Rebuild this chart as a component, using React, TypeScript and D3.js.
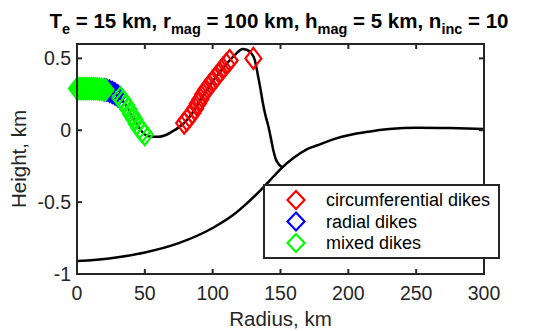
import React from "react";
import * as d3 from "d3";

// surface profile (upper curve)
const surfR = [0, 5, 10, 15, 20, 25, 30, 35, 40, 45, 50, 55, 60, 65, 70, 75, 80, 85, 90, 95, 100, 105, 110, 115, 119, 122, 125, 128, 131, 133, 135, 137, 139, 141, 143, 144.5, 146.5, 149, 152];
const surfH = [0.29, 0.29, 0.29, 0.288, 0.282, 0.268, 0.24, 0.19, 0.11, 0.03, -0.03, -0.045, -0.045, -0.035, -0.01, 0.02, 0.06, 0.12, 0.195, 0.27, 0.34, 0.4, 0.46, 0.51, 0.548, 0.565, 0.56, 0.54, 0.49, 0.4, 0.3, 0.19, 0.1, 0.03, -0.06, -0.13, -0.2, -0.24, -0.26];

// lower profile
const baseR = [0, 25, 50, 75, 100, 115, 125, 135, 145, 150, 160, 170, 180, 190, 200, 215, 230, 250, 275, 300];
const baseH = [-0.91, -0.89, -0.85, -0.785, -0.68, -0.59, -0.51, -0.42, -0.32, -0.27, -0.19, -0.13, -0.095, -0.06, -0.035, -0.01, 0.008, 0.018, 0.015, 0.008];

// dike positions
const circR = [79, 81, 83, 85, 87, 89, 91, 93, 95, 97.5, 100, 102.5, 105, 107.5, 110, 112.5, 130];
const circH = [0.05, 0.07, 0.095, 0.12, 0.15, 0.185, 0.215, 0.25, 0.28, 0.31, 0.34, 0.37, 0.4, 0.43, 0.46, 0.485, 0.5];
const radialR = [20, 22, 24, 26, 28, 30, 32];
const radialH = [0.282, 0.278, 0.272, 0.263, 0.253, 0.24, 0.225];
const mixedR = [0, 1.5, 3, 4.5, 6, 7.5, 9, 10.5, 12, 13.5, 15, 16.5, 18, 19.5, 21, 32, 34, 36, 38, 40, 42, 44, 46, 48, 50];
const mixedH = [0.29, 0.29, 0.29, 0.29, 0.29, 0.29, 0.29, 0.29, 0.29, 0.289, 0.288, 0.286, 0.284, 0.282, 0.28, 0.225, 0.205, 0.175, 0.145, 0.11, 0.08, 0.045, 0.015, -0.01, -0.03];

const xTicks = [0, 50, 100, 150, 200, 250, 300];
const yTicks = [-1, -0.5, 0, 0.5];
const legendNames = ["circumferential dikes", "radial dikes", "mixed dikes"];
const legendColors = ["#ff0000", "#0000ff", "#00ff00"];

const W = 549;
const H = 331;
const m = { left: 77, right: 65, top: 44, bottom: 57 };
const font = "'Liberation Sans', Arial, sans-serif";
const axisColor = "#262626";

export default function App() {
  const x = d3.scaleLinear().domain([0, 300]).range([m.left, W - m.right]);
  const y = d3.scaleLinear().domain([-1, 0.6]).range([H - m.bottom, m.top]);

  const surfPath = d3
    .line<number>()
    .x((d) => x(surfR[d]))
    .y((d) => y(surfH[d]))
    .curve(d3.curveMonotoneX)(d3.range(surfR.length));
  const basePath = d3
    .line<number>()
    .x((d) => x(baseR[d]))
    .y((d) => y(baseH[d]))
    .curve(d3.curveMonotoneX)(d3.range(baseR.length));

  // diamond marker, a bit taller than wide like in the figure
  const diamond = (cx: number, cy: number, w: number, h: number) =>
    `M${cx},${cy - h}L${cx + w},${cy}L${cx},${cy + h}L${cx - w},${cy}Z`;

  const series = [
    { r: circR, h: circH, c: legendColors[0] },
    { r: radialR, h: radialH, c: legendColors[1] },
    { r: mixedR, h: mixedH, c: legendColors[2] },
  ];

  const x0 = x(0), x1 = x(300), yTop = y(0.6), yBot = y(-1);
  const tl = 5;

  const lg = { x: 264, y: 185, w: 235, h: 73 };

  return (
    <svg width={W} height={H} style={{ position: "absolute", left: 0, top: 0, background: "#fff" }}>
      <rect width={W} height={H} fill="#fff" />
      <text x={279} y={28} textAnchor="middle" fontFamily={font} fontWeight="bold" fontSize={20.5} fill="#000">
        <tspan>T</tspan>
        <tspan fontSize={14.5} dy={6}>e</tspan>
        <tspan dy={-6}> = 15 km, r</tspan>
        <tspan fontSize={14.5} dy={6}>mag</tspan>
        <tspan dy={-6}> = 100 km, h</tspan>
        <tspan fontSize={14.5} dy={6}>mag</tspan>
        <tspan dy={-6}> = 5 km, n</tspan>
        <tspan fontSize={14.5} dy={6}>inc</tspan>
        <tspan dy={-6}> = 10</tspan>
      </text>

      <clipPath id="plotclip">
        <rect x={x0} y={yTop} width={x1 - x0} height={yBot - yTop} />
      </clipPath>

      <g clipPath="url(#plotclip)">
        <path d={basePath || ""} fill="none" stroke="#000" strokeWidth={2.5} />
        <path d={surfPath || ""} fill="none" stroke="#000" strokeWidth={2.5} />
      </g>
      {series.map((s, si) => (
        <g key={si}>
          {s.r.map((r, i) => (
            <path key={i} d={diamond(x(r), y(s.h[i]), 8, 10.5)} fill="none" stroke={s.c} strokeWidth={2.2} />
          ))}
        </g>
      ))}

      {/* axes box */}
      <rect x={x0} y={yTop} width={x1 - x0} height={yBot - yTop} fill="none" stroke={axisColor} strokeWidth={2} />
      {xTicks.map((t) => (
        <g key={"x" + t}>
          <line x1={x(t)} x2={x(t)} y1={yBot} y2={yBot - tl} stroke={axisColor} strokeWidth={2} />
          <line x1={x(t)} x2={x(t)} y1={yTop} y2={yTop + tl} stroke={axisColor} strokeWidth={2} />
          <text x={x(t)} y={300} textAnchor="middle" fontFamily={font} fontSize={19.5} fill={axisColor}>
            {t}
          </text>
        </g>
      ))}
      {yTicks.map((t) => (
        <g key={"y" + t}>
          <line x1={x0} x2={x0 + tl} y1={y(t)} y2={y(t)} stroke={axisColor} strokeWidth={2} />
          <line x1={x1} x2={x1 - tl} y1={y(t)} y2={y(t)} stroke={axisColor} strokeWidth={2} />
          <text x={x0 - 6} y={y(t)} dy="0.35em" textAnchor="end" fontFamily={font} fontSize={19.5} fill={axisColor}>
            {String(t)}
          </text>
        </g>
      ))}
      <text x={(x0 + x1) / 2} y={326} textAnchor="middle" fontFamily={font} fontSize={20.5} fill={axisColor}>
        Radius, km
      </text>
      <text transform={`translate(26,${(yTop + yBot) / 2}) rotate(-90)`} textAnchor="middle" fontFamily={font} fontSize={20.5} fill={axisColor}>
        Height, km
      </text>

      {/* legend */}
      <rect x={lg.x} y={lg.y} width={lg.w} height={lg.h} fill="#fff" stroke={axisColor} strokeWidth={2} />
      {legendNames.map((n, i) => (
        <g key={n}>
          <path d={diamond(lg.x + 32, lg.y + 15 + i * 21.5, 8.5, 9)} fill="none" stroke={legendColors[i]} strokeWidth={2.2} />
          <text x={lg.x + 62} y={lg.y + 15 + i * 21.5} dy="0.35em" fontFamily={font} fontSize={18} fill="#000">
            {n}
          </text>
        </g>
      ))}
    </svg>
  );
}
